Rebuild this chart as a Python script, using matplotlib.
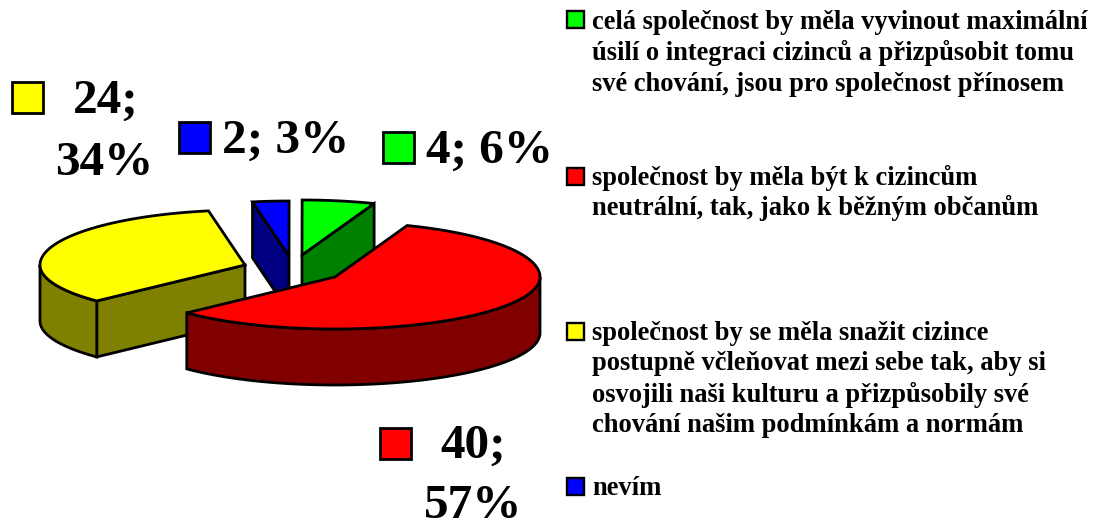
import numpy as np
import matplotlib
matplotlib.use('Agg')
import matplotlib.pyplot as plt
from matplotlib.patches import Polygon, Rectangle

plt.rcParams['font.family'] = ['Liberation Serif', 'DejaVu Serif']

# Data, in the order the wedges run round the pie
names = ['green', 'blue', 'yellow', 'red']
values = [4, 2, 24, 40]
top_colors = ['#00ff00', '#0000ff', '#ffff00', '#ff0000']
side_colors = ['#008000', '#000080', '#808000', '#800000']
legend_lines = [
    ['celá společnost by měla vyvinout maximální',
     'úsilí o integraci cizinců a přizpůsobit tomu',
     'své chování, jsou pro společnost přínosem'],
    ['nevím'],
    ['společnost by se měla snažit cizince',
     'postupně včleňovat mezi sebe tak, aby si',
     'osvojili naši kulturu a přizpůsobily své',
     'chování našim podmínkám a normám'],
    ['společnost by měla být k cizincům',
     'neutrální, tak, jako k běžným občanům'],
]

# Pie geometry (pixels); the far half of the ellipse is a bit taller than the near one
start_angle = 69.4
rx, ry_back, ry_front, depth = 205, 55, 52, 56
centers = {'green': (302, 255), 'blue': (289, 256),
           'yellow': (245, 265), 'red': (335, 277)}

# Label placement: swatch left/top, then text x and baseline per line
label_pos = {
    'green': (383, 132, [(426, 163)]),
    'blue': (179, 122, [(222, 153)]),
    'yellow': (12, 82, [(73, 113), (55, 175)]),
    'red': (380, 428, [(440, 458), (424, 518)]),
}
legend_pos = {'green': (11, [29, 60, 91]),
              'blue': (478, [495]),
              'yellow': (323, [340, 370, 402, 432]),
              'red': (168, [185, 215])}

fig = plt.figure(figsize=(11, 5.22), dpi=100)
ax = fig.add_axes([0, 0, 1, 1])
ax.set_xlim(0, 1100)
ax.set_ylim(522, 0)
ax.axis('off')


def rim(center, t):
    s = np.sin(np.radians(t))
    return np.column_stack([center[0] + rx * np.cos(np.radians(t)),
                            center[1] - np.where(s > 0, ry_back, ry_front) * s])


def face(points, color, z):
    ax.add_patch(Polygon(points, closed=True, facecolor=color, edgecolor='black',
                         linewidth=2.0, joinstyle='miter', zorder=z))


total = sum(values)
sweeps = np.array(values) / total * 360
t0 = start_angle
for i, name in enumerate(names):
    c = centers[name]
    t1 = t0 + sweeps[i]
    z = {'yellow': 1, 'blue': 2, 'green': 3, 'red': 4}[name]
    down = np.array([0, depth])
    apex = np.array([c])

    # flat cut faces, only the ones turned toward the viewer
    if name == 'green':
        edge = rim(c, np.array([t0]))
        face(np.vstack([apex, edge, edge + down, apex + down]), side_colors[i], z)
    if name in ('blue', 'yellow'):
        edge = rim(c, np.array([t1]))
        face(np.vstack([apex, edge, edge + down, apex + down]), side_colors[i], z)

    # outer curved wall, lower half of the ellipse only
    a, b = max(t0, 180), min(t1, 360)
    if b > a:
        arc = rim(c, np.linspace(a, b, 60))
        face(np.vstack([arc, (arc + down)[::-1]]), side_colors[i], z)

    # top
    arc = rim(c, np.linspace(t0, t1, 120))
    face(np.vstack([apex, arc]), top_colors[i], z + 0.5)
    t0 = t1

# Data labels
for i, name in enumerate(names):
    sx, sy, spots = label_pos[name]
    ax.add_patch(Rectangle((sx, sy), 31, 31, facecolor=top_colors[i],
                           edgecolor='black', linewidth=2.0, zorder=6))
    pct = round(100 * values[i] / total)
    if len(spots) == 1:
        parts = [f'{values[i]}; {pct}%']
    else:
        parts = [f'{values[i]};', f'{pct}%']
    for (x, y), part in zip(spots, parts):
        ax.text(x, y, part, fontsize=35.5, fontweight='bold', color='black',
                ha='left', va='baseline', zorder=7)

# Legend
for i, name in enumerate(names):
    top, baselines = legend_pos[name]
    ax.add_patch(Rectangle((567, top), 17, 17, facecolor=top_colors[i],
                           edgecolor='black', linewidth=1.7, zorder=6))
    for line, y in zip(legend_lines[i], baselines):
        ax.text(592, y, line, fontsize=19.1, fontweight='bold', color='black',
                ha='left', va='baseline', zorder=7)

plt.savefig('out.png', dpi=100)
